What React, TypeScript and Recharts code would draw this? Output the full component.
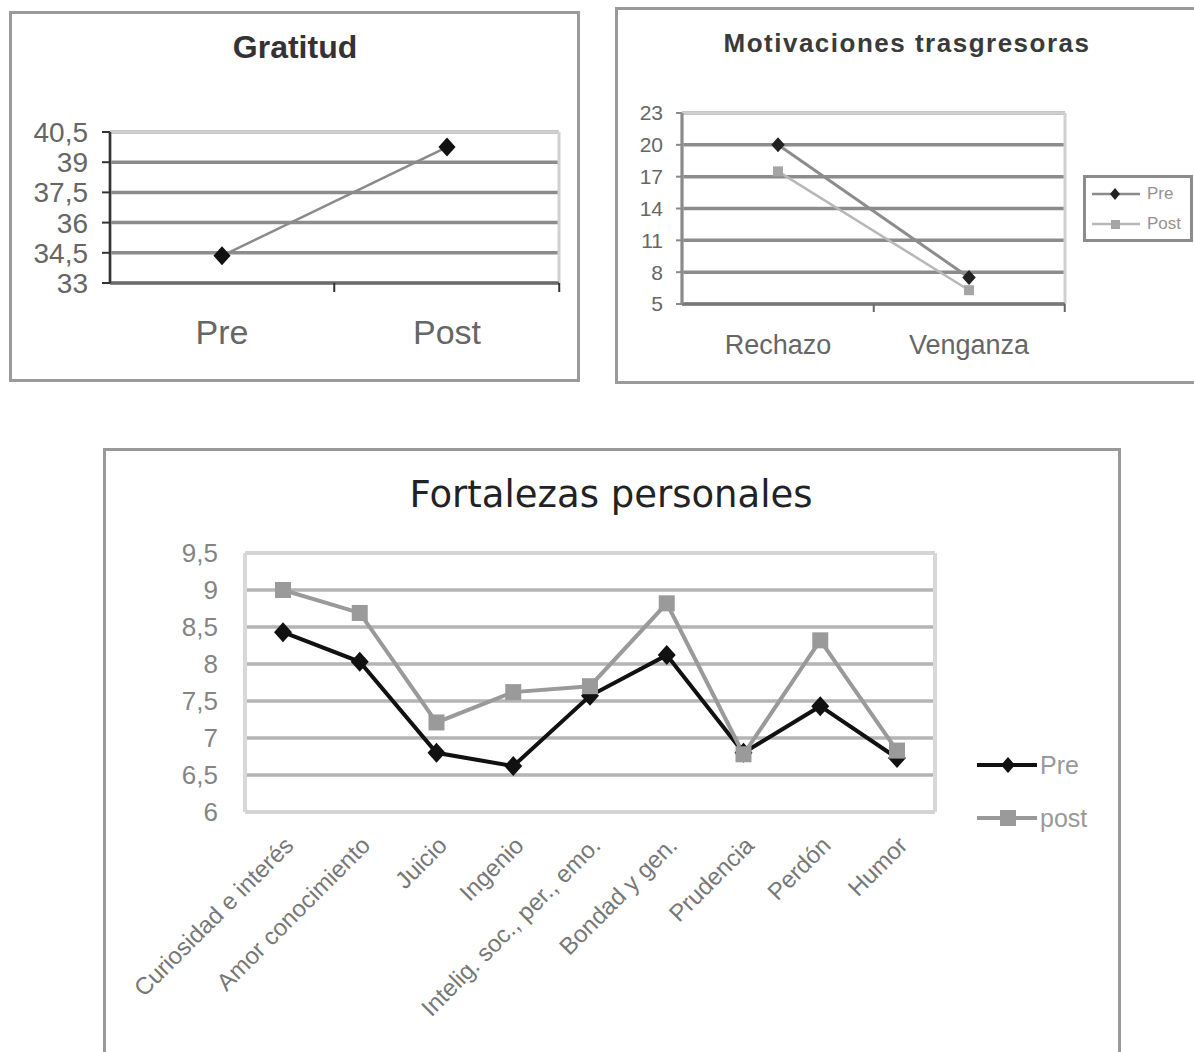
import React from 'react';
import { LineChart, Line, XAxis, YAxis, CartesianGrid, ReferenceLine, Legend } from 'recharts';

const FONT = "'Liberation Sans', Arial, Helvetica, sans-serif";

// Gratitud
const gratitudCategories = ['Pre', 'Post'];
const gratitudValues = [34.35, 39.75];
const gratitudTicks = [33, 34.5, 36, 37.5, 39, 40.5];

// Motivaciones trasgresoras
const motivCategories = ['Rechazo', 'Venganza'];
const motivSeries = ['Pre', 'Post'];
const motivPre = [20, 7.5];
const motivPost = [17.5, 6.3];
const motivTicks = [5, 8, 11, 14, 17, 20, 23];

// Fortalezas personales
const fortCategories = [
  'Curiosidad e interés',
  'Amor conocimiento',
  'Juicio',
  'Ingenio',
  'Intelig. soc., per., emo.',
  'Bondad y gen.',
  'Prudencia',
  'Perdón',
  'Humor',
];
const fortSeries = ['Pre', 'post'];
const fortPre = [8.43, 8.03, 6.8, 6.62, 7.57, 8.12, 6.8, 7.43, 6.73];
const fortPost = [9.0, 8.69, 7.21, 7.62, 7.7, 8.82, 6.78, 8.32, 6.83];
const fortTicks = [6, 6.5, 7, 7.5, 8, 8.5, 9, 9.5];

const gratitudData = gratitudCategories.map((c, i) => ({ name: c, value: gratitudValues[i] }));
const motivData = motivCategories.map((c, i) => ({ name: c, pre: motivPre[i], post: motivPost[i] }));
const fortData = fortCategories.map((c, i) => ({ name: c, pre: fortPre[i], post: fortPost[i] }));

const comma = (v: number) => String(v).replace('.', ',');

const diamondDot = (r: number, fill: string) => (props: any) => {
  const { cx, cy, index } = props;
  if (cx == null || cy == null) return <g key={`d${index}`} />;
  const w = r * 0.9;
  return (
    <path
      key={`d${index}`}
      d={`M${cx},${cy - r}L${cx + w},${cy}L${cx},${cy + r}L${cx - w},${cy}Z`}
      fill={fill}
    />
  );
};

const squareDot = (s: number, fill: string) => (props: any) => {
  const { cx, cy, index } = props;
  if (cx == null || cy == null) return <g key={`s${index}`} />;
  return <rect key={`s${index}`} x={cx - s / 2} y={cy - s / 2} width={s} height={s} fill={fill} />;
};

// Category label plus a small tick mark at the right boundary of the category band
const CatTick = (props: any) => {
  const { x, y, payload, off, size, color, half, markLen, markColor } = props;
  return (
    <g>
      <line x1={x + half} y1={y} x2={x + half} y2={y + markLen} stroke={markColor} strokeWidth={2} />
      <text x={x} y={y + off} dy="0.35em" textAnchor="middle" fontSize={size} fill={color} fontFamily={FONT}>
        {payload.value}
      </text>
    </g>
  );
};

const RotTick = (props: any) => {
  const { x, y, payload } = props;
  const ax = x + 6;
  const ay = y + 29;
  return (
    <text
      x={ax}
      y={ay}
      dy="0.35em"
      textAnchor="end"
      transform={`rotate(-45 ${ax} ${ay})`}
      fontSize={24}
      fill="#777"
      fontFamily={FONT}
    >
      {payload.value}
    </text>
  );
};

const edgeLines = ({ offset }: any) => [offset.left, offset.left + offset.width];

const MotivLegend = () => {
  const rows = [0, 1];
  return (
    <div
      style={{
        position: 'relative',
        width: 110,
        height: 67,
        border: '3px solid #8c8c8c',
        boxSizing: 'border-box',
        background: '#fff',
        fontFamily: FONT,
        fontSize: 17,
        color: '#9a9090',
      }}
    >
      {rows.map((i) => (
        <div key={i} style={{ position: 'absolute', left: 6, top: i === 0 ? 6 : 36, height: 20, display: 'flex', alignItems: 'center' }}>
          <svg width={50} height={20} style={{ display: 'block' }}>
            <line x1={0} y1={10} x2={48} y2={10} stroke={i === 0 ? '#8c8c8c' : '#b8b8b8'} strokeWidth={2.5} />
            {i === 0 ? (
              <path d="M23,4L28,10L23,16L18,10Z" fill="#222" />
            ) : (
              <rect x={19} y={6} width={9} height={9} fill="#a5a5a5" />
            )}
          </svg>
          <span style={{ marginLeft: 5, whiteSpace: 'nowrap' }}>{motivSeries[i]}</span>
        </div>
      ))}
    </div>
  );
};

const FortLegend = () => {
  const rows = [0, 1];
  return (
    <div style={{ position: 'relative', width: 140, height: 110, fontFamily: FONT, fontSize: 25, color: '#999' }}>
      {rows.map((i) => (
        <div key={i} style={{ position: 'absolute', left: 0, top: i === 0 ? 10 : 63, height: 30, display: 'flex', alignItems: 'center' }}>
          <svg width={62} height={30} style={{ display: 'block' }}>
            <line x1={0} y1={15} x2={60} y2={15} stroke={i === 0 ? '#111' : '#9a9a9a'} strokeWidth={4} />
            {i === 0 ? (
              <path d="M31,7L38,15L31,23L24,15Z" fill="#111" />
            ) : (
              <rect x={23} y={7} width={16} height={16} fill="#9a9a9a" />
            )}
          </svg>
          <span style={{ marginLeft: 1, whiteSpace: 'nowrap' }}>{fortSeries[i]}</span>
        </div>
      ))}
    </div>
  );
};

const titleStyle = (left: number, top: number, width: number, size: number, bold: boolean, extra: any = {}) => ({
  position: 'absolute' as const,
  left,
  top,
  width,
  height: 50,
  lineHeight: '50px',
  textAlign: 'center' as const,
  fontFamily: FONT,
  fontSize: size,
  fontWeight: bold ? 700 : 400,
  color: '#333',
  whiteSpace: 'nowrap' as const,
  ...extra,
});

export default function App() {
  return (
    <div style={{ position: 'absolute', left: 0, top: 0, width: 1194, height: 1052, overflow: 'hidden', background: '#fff' }}>
      {/* Frames */}
      <div style={{ position: 'absolute', left: 9, top: 11, width: 571, height: 371, border: '3px solid #9a9a9a', boxSizing: 'border-box' }} />
      <div style={{ position: 'absolute', left: 615, top: 7, width: 620, height: 377, border: '3px solid #9a9a9a', boxSizing: 'border-box' }} />
      <div style={{ position: 'absolute', left: 103, top: 448, width: 1018, height: 700, border: '3px solid #999', boxSizing: 'border-box' }} />

      {/* Titles */}
      <div style={titleStyle(95, 22, 400, 32, true)}>Gratitud</div>
      <div style={titleStyle(657, 18, 500, 26, true, { letterSpacing: '1.5px', color: '#3a3a3a' })}>Motivaciones trasgresoras</div>
      <div style={titleStyle(311, 470, 600, 37, false, { fontFamily: "'DejaVu Sans', " + FONT, color: '#222' })}>Fortalezas personales</div>

      {/* Gratitud */}
      <div style={{ position: 'absolute', left: 10, top: 12 }}>
        <LineChart width={570} height={370} data={gratitudData} margin={{ top: 120, right: 21, left: 0, bottom: 39 }}>
          <CartesianGrid vertical={false} stroke="#8c8c8c" strokeWidth={3.5} />
          <CartesianGrid horizontal={false} verticalCoordinatesGenerator={edgeLines} stroke="#d0d0d0" strokeWidth={3} />
          <ReferenceLine y={40.5} stroke="#d0d0d0" strokeWidth={3.5} />
          <XAxis
            dataKey="name"
            padding={{ left: 112, right: 112 }}
            height={60}
            interval={0}
            tickLine={false}
            tickSize={0}
            tickMargin={0}
            axisLine={{ stroke: '#6a6a6a', strokeWidth: 3 }}
            tick={<CatTick off={49} size={34} color="#666" half={112.25} markLen={9} markColor="#333" />}
          />
          <YAxis
            width={100}
            domain={[33, 40.5]}
            ticks={gratitudTicks}
            interval={0}
            tickFormatter={comma}
            axisLine={{ stroke: '#333', strokeWidth: 2.5 }}
            tickLine={{ stroke: '#333', strokeWidth: 2 }}
            tickSize={8}
            tickMargin={14}
            tick={{ fontSize: 28, fill: '#666', fontFamily: FONT }}
          />
          <Line
            dataKey="value"
            stroke="#8a8a8a"
            strokeWidth={2.5}
            dot={diamondDot(9.5, '#111')}
            activeDot={false}
            isAnimationActive={false}
          />
        </LineChart>
      </div>

      {/* Motivaciones trasgresoras */}
      <div style={{ position: 'absolute', left: 616, top: 8 }}>
        <LineChart width={578} height={374} data={motivData} margin={{ top: 105, right: 129, left: 0, bottom: 28 }}>
          <CartesianGrid vertical={false} stroke="#8c8c8c" strokeWidth={3.5} />
          <CartesianGrid horizontal={false} verticalCoordinatesGenerator={edgeLines} stroke="#d0d0d0" strokeWidth={3} />
          <ReferenceLine y={23} stroke="#cfcfcf" strokeWidth={3.5} />
          <XAxis
            dataKey="name"
            padding={{ left: 96, right: 96 }}
            height={50}
            interval={0}
            tickLine={false}
            tickSize={0}
            tickMargin={0}
            axisLine={{ stroke: '#777', strokeWidth: 3 }}
            tick={<CatTick off={41} size={27} color="#666" half={95.75} markLen={8} markColor="#666" />}
          />
          <YAxis
            width={66}
            domain={[5, 23]}
            ticks={motivTicks}
            interval={0}
            axisLine={{ stroke: '#8a8a8a', strokeWidth: 3 }}
            tickLine={{ stroke: '#8a8a8a', strokeWidth: 2 }}
            tickSize={6}
            tickMargin={13}
            tick={{ fontSize: 21, fill: '#666', fontFamily: FONT }}
          />
          <Legend
            layout="horizontal"
            verticalAlign="middle"
            align="center"
            wrapperStyle={{ left: 467, top: 167, width: 110, height: 67 }}
            content={<MotivLegend />}
          />
          <Line
            name={motivSeries[0]}
            dataKey="pre"
            stroke="#8c8c8c"
            strokeWidth={3}
            dot={diamondDot(7.5, '#222')}
            activeDot={false}
            isAnimationActive={false}
          />
          <Line
            name={motivSeries[1]}
            dataKey="post"
            stroke="#b8b8b8"
            strokeWidth={2.5}
            dot={squareDot(10, '#a5a5a5')}
            activeDot={false}
            isAnimationActive={false}
          />
        </LineChart>
      </div>

      {/* Fortalezas personales */}
      <div style={{ position: 'absolute', left: 105, top: 450 }}>
        <LineChart width={1015} height={602} data={fortData} margin={{ top: 103, right: 185, left: 0, bottom: 40 }}>
          <CartesianGrid vertical={false} stroke="#b4b4b4" strokeWidth={3.5} />
          <CartesianGrid horizontal={false} verticalCoordinatesGenerator={edgeLines} stroke="#d8d8d8" strokeWidth={4} />
          <ReferenceLine y={9.5} stroke="#d4d4d4" strokeWidth={4} />
          <ReferenceLine y={6} stroke="#d4d4d4" strokeWidth={4} />
          <XAxis
            dataKey="name"
            padding={{ left: 38, right: 38 }}
            height={200}
            interval={0}
            tickLine={false}
            axisLine={false}
            tickSize={0}
            tickMargin={0}
            tick={<RotTick />}
          />
          <YAxis
            width={140}
            domain={[6, 9.5]}
            ticks={fortTicks}
            interval={0}
            tickFormatter={comma}
            axisLine={false}
            tickLine={false}
            tickSize={0}
            tickMargin={27}
            tick={{ fontSize: 26, fill: '#848484', fontFamily: FONT }}
          />
          <Legend
            layout="horizontal"
            verticalAlign="middle"
            align="center"
            wrapperStyle={{ left: 872, top: 290, width: 140, height: 110 }}
            content={<FortLegend />}
          />
          <Line
            name={fortSeries[0]}
            dataKey="pre"
            stroke="#111"
            strokeWidth={4}
            dot={diamondDot(10, '#111')}
            activeDot={false}
            isAnimationActive={false}
          />
          <Line
            name={fortSeries[1]}
            dataKey="post"
            stroke="#9a9a9a"
            strokeWidth={4}
            dot={squareDot(16, '#9a9a9a')}
            activeDot={false}
            isAnimationActive={false}
          />
        </LineChart>
      </div>
    </div>
  );
}
